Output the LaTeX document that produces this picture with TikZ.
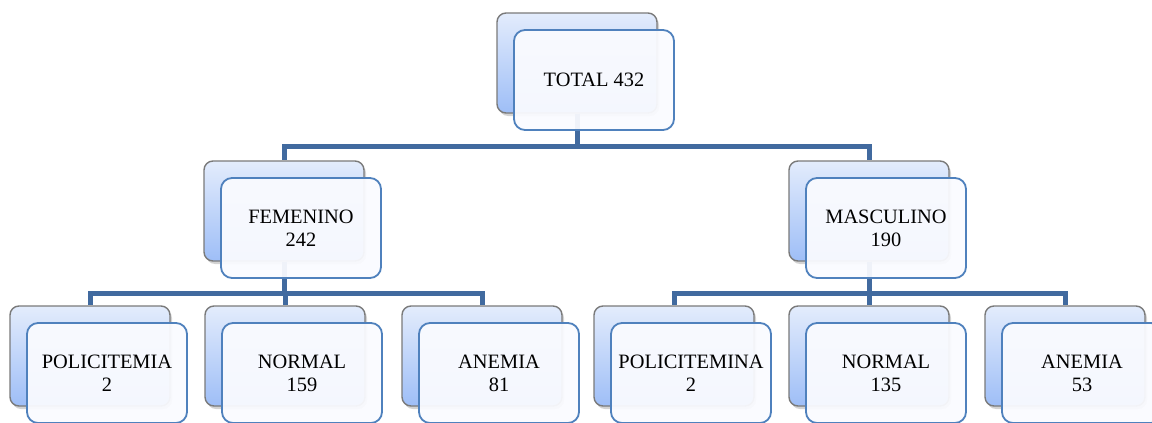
\documentclass[tikz,border=0pt]{standalone}
\usepackage{fontspec}
\setmainfont{Liberation Serif}
\usepackage{xcolor}
\usepackage{tikz}
\usetikzlibrary{shadows}
\definecolor{boxTop}{HTML}{E3ECFC}
\definecolor{boxBottom}{HTML}{9EBEF7}
\definecolor{boxGray}{HTML}{7A7A7A}
\definecolor{frontBlue}{HTML}{4F81BD}
\definecolor{frontFill}{HTML}{FAFBFF}
\definecolor{linkBlue}{HTML}{416A9F}

\begin{document}
\begin{tikzpicture}[
  x=0.5pt, y=-0.5pt,
  every node/.style={font=\fontsize{10.2}{11.5}\selectfont},
  backbox/.style={draw=boxGray, line width=0.7pt, rounded corners=4.5pt,
              top color=boxTop, bottom color=boxBottom,
              minimum width=80pt, minimum height=50pt, inner sep=0pt,
              drop shadow={shadow xshift=1pt, shadow yshift=-1.5pt, opacity=0.35}},
  frontbox/.style={draw=frontBlue, line width=0.9pt, rounded corners=5.5pt,
              fill=frontFill, fill opacity=0.94, text opacity=1,
              minimum width=80pt, minimum height=50pt, inner sep=0pt, align=center},
  link/.style={draw=linkBlue, line width=2.5pt},
]
\clip (0,0) rectangle (1152,423);

% Back boxes
\node[backbox] (total) at (577, 63) {};
\node[backbox] (fem) at (284, 211) {};
\node[backbox] (masc) at (869, 211) {};
\node[backbox] (fpol) at (90, 356) {};
\node[backbox] (fnor) at (285, 356) {};
\node[backbox] (fane) at (482, 356) {};
\node[backbox] (mpol) at (674, 356) {};
\node[backbox] (mnor) at (869, 356) {};
\node[backbox] (mane) at (1065, 356) {};

% Links
\draw[link] (total.south) -- ++(0, 33) -| (fem.north);
\draw[link] (total.south) -- ++(0, 33) -| (masc.north);
\draw[link] (fem.south) -- ++(0, 32) -| (fpol.north);
\draw[link] (fem.south) -- ++(0, 32) -| (fnor.north);
\draw[link] (fem.south) -- ++(0, 32) -| (fane.north);
\draw[link] (masc.south) -- ++(0, 32) -| (mpol.north);
\draw[link] (masc.south) -- ++(0, 32) -| (mnor.north);
\draw[link] (masc.south) -- ++(0, 32) -| (mane.north);

% Front boxes
\node[frontbox] (totalF) at (594, 80) {TOTAL 432};
\node[frontbox] (femF) at (301, 228) {FEMENINO\\242};
\node[frontbox] (mascF) at (886, 228) {MASCULINO\\190};
\node[frontbox] (fpolF) at (107, 373) {POLICITEMIA\\2};
\node[frontbox] (fnorF) at (302, 373) {NORMAL\\159};
\node[frontbox] (faneF) at (499, 373) {ANEMIA\\81};
\node[frontbox] (mpolF) at (691, 373) {POLICITEMINA\\2};
\node[frontbox] (mnorF) at (886, 373) {NORMAL\\135};
\node[frontbox] (maneF) at (1082, 373) {ANEMIA\\53};

\end{tikzpicture}
\end{document}
